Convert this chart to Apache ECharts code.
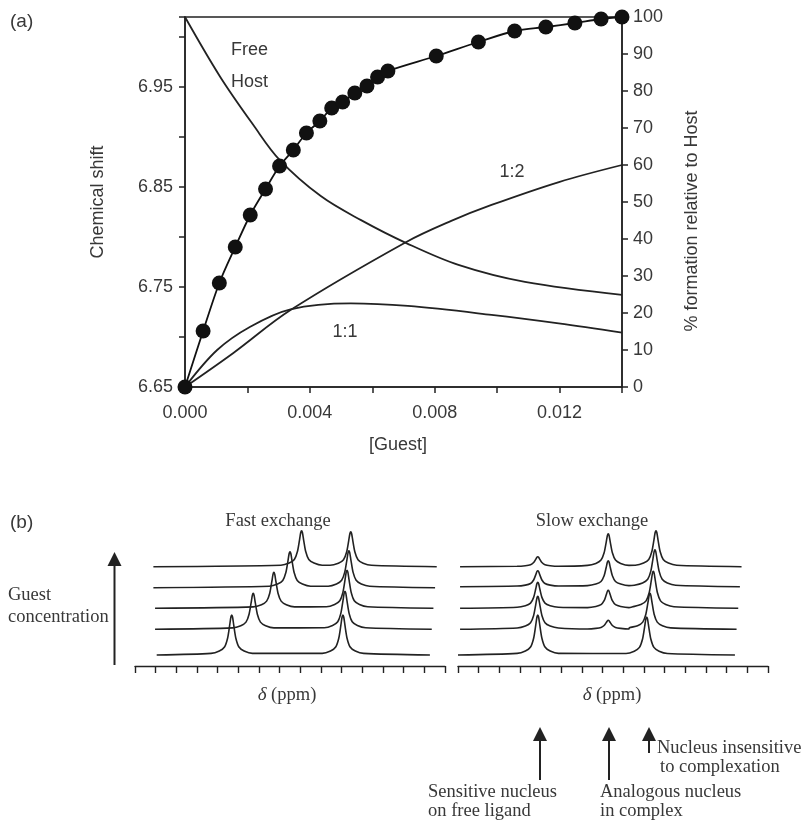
<!DOCTYPE html>
<html lang="en">
<head>
    <meta charset="UTF-8">
    <title>Host-guest titration</title>
    <script src="https://cdn.jsdelivr.net/npm/echarts@6/dist/echarts.min.js"></script>
    <style>
        html, body { margin: 0; padding: 0; background: #fff; }
        #main { width: 805px; height: 820px; }
    </style>
</head>
<body>
<div id="main"></div>
<script type="text/javascript">
// ---- (a) titration data ----
var GUEST = [0, 0.00058, 0.00110, 0.00161, 0.00209, 0.00258, 0.00303, 0.00347, 0.00389, 0.00432,
    0.00470, 0.00505, 0.00544, 0.00583, 0.00617, 0.00650, 0.00805, 0.00940, 0.01056, 0.01156,
    0.01249, 0.01333, 0.01400];
var SHIFT = [6.650, 6.706, 6.754, 6.790, 6.822, 6.848, 6.871, 6.887, 6.904, 6.916,
    6.929, 6.935, 6.944, 6.951, 6.960, 6.966, 6.981, 6.995, 7.006, 7.010,
    7.014, 7.018, 7.020];

var FREE_X = [0, 0.00113, 0.00219, 0.00303, 0.00435, 0.00564, 0.00709, 0.00876, 0.01089, 0.0140];
var FREE_PCT = [100, 83.8, 70.8, 61.4, 51.6, 45.1, 38.9, 33.0, 28.4, 24.9];

var C11_X = [0, 0.00103, 0.00209, 0.00338, 0.00531, 0.00714, 0.00982, 0.01197, 0.0140];
var C11_PCT = [0, 10, 16.3, 21, 22.6, 21.9, 19.5, 17.2, 14.7];

var C12_X = [0, 0.00155, 0.00338, 0.00709, 0.00853, 0.00982, 0.01198, 0.0140];
var C12_PCT = [0, 9.2, 20.8, 39.2, 44.9, 49.2, 55.4, 60];

// ---- (b) spectra, traces listed bottom -> top ----
var LEFT_START = [1.05, 0.97, 0.97, 0.89, 0.89];
var LEFT_END = [14.27, 14.36, 14.44, 14.52, 14.6];
var LEFT_BASE = [11, 36.7, 57.7, 78.3, 99.3];
var LEFT_P1_POS = [4.68, 5.72, 6.72, 7.5, 8.06];
var LEFT_P1_H = [40, 36, 36, 36, 36];
var LEFT_P2_POS = [10.06, 10.16, 10.26, 10.35, 10.44];
var LEFT_P2_H = [40, 38, 38, 37, 35];

var RIGHT_START = [0.0, 0.1, 0.1, 0.1, 0.1];
var RIGHT_END = [13.4, 13.48, 13.56, 13.64, 13.72];
var RIGHT_BASE = [11, 36.7, 57.7, 79.3, 99.3];
var FREE_POS = [3.86, 3.86, 3.86, 3.86, 3.86];
var FREE_H = [40, 33, 26, 16, 10];
var CPLX_POS = [7.27, 7.27, 7.27, 7.27, 7.27];
var CPLX_H = [0, 9, 18, 26, 33];
var INS_POS = [9.13, 9.29, 9.45, 9.53, 9.58];
var INS_H = [38, 36, 37, 37, 36];

// peak outline (offset in ppm units, fraction of height)
var PEAK_DX = [-1.0, -0.6, -0.35, -0.2, -0.1, -0.04, 0, 0.04, 0.1, 0.2, 0.35, 0.6, 1.0];
var PEAK_FRAC = [0.04, 0.1, 0.2, 0.42, 0.74, 0.95, 1, 0.95, 0.74, 0.42, 0.2, 0.1, 0.04];

var INK = '#222';
var TXT = '#383838';
var SANS = '"Liberation Sans", Arial, sans-serif';
var SERIF = '"Liberation Serif", "Times New Roman", serif';

function zip(xs, ys) {
    var out = [];
    for (var i = 0; i < xs.length; i++) out.push([xs[i], ys[i]]);
    return out;
}

function trace(start, end, base, peaks) {
    var pts = [[start, base]];
    for (var p = 0; p < peaks.length; p++) {
        if (peaks[p][1] <= 0) continue;
        for (var k = 0; k < PEAK_DX.length; k++) {
            pts.push([peaks[p][0] + PEAK_DX[k], base + peaks[p][1] * PEAK_FRAC[k]]);
        }
    }
    pts.push([end, base]);
    return pts;
}

var series = [];
series.push({
    type: 'line', xAxisIndex: 0, yAxisIndex: 0,
    data: zip(GUEST, SHIFT), smooth: 0.3, clip: false,
    symbol: 'circle', symbolSize: 15,
    itemStyle: { color: '#111' },
    lineStyle: { color: '#111', width: 1.8 }, z: 5
});
[[FREE_X, FREE_PCT], [C11_X, C11_PCT], [C12_X, C12_PCT]].forEach(function (c) {
    series.push({
        type: 'line', xAxisIndex: 0, yAxisIndex: 1,
        data: zip(c[0], c[1]), smooth: 0.35, showSymbol: false,
        lineStyle: { color: INK, width: 1.8 }
    });
});
for (var i = 0; i < 5; i++) {
    series.push({
        type: 'line', xAxisIndex: 1, yAxisIndex: 2, showSymbol: false, smooth: 0.25,
        lineStyle: { color: INK, width: 1.6 },
        data: trace(LEFT_START[i], LEFT_END[i], LEFT_BASE[i],
            [[LEFT_P1_POS[i], LEFT_P1_H[i]], [LEFT_P2_POS[i], LEFT_P2_H[i]]])
    });
    series.push({
        type: 'line', xAxisIndex: 2, yAxisIndex: 3, showSymbol: false, smooth: 0.25,
        lineStyle: { color: INK, width: 1.6 },
        data: trace(RIGHT_START[i], RIGHT_END[i], RIGHT_BASE[i],
            [[FREE_POS[i], FREE_H[i]], [CPLX_POS[i], CPLX_H[i]], [INS_POS[i], INS_H[i]]])
    });
}

var axLine = { show: true, lineStyle: { color: INK, width: 1.5 } };
var axTick = { show: true, length: 6, lineStyle: { color: INK, width: 1.5 } };
var labStyle = { color: TXT, fontSize: 18, fontFamily: SANS };

function specX(grid) {
    return {
        gridIndex: grid, type: 'value', min: 0, max: 15, interval: 1,
        axisLine: { show: true, lineStyle: { color: INK, width: 1.4 } },
        axisTick: { show: true, length: 7, lineStyle: { color: INK, width: 1.4 } },
        axisLabel: { show: false }, splitLine: { show: false }
    };
}
function specY(grid) {
    return { gridIndex: grid, type: 'value', min: 0, max: 150, show: false };
}

function txt(x, y, s, font, extra) {
    var el = {
        type: 'text', x: x, y: y, silent: true,
        style: { text: s, font: font, fill: TXT, align: 'left', verticalAlign: 'middle' }
    };
    if (extra) for (var k in extra) el.style[k] = extra[k];
    return el;
}
function arrow(x, tip, bottom) {
    return [
        { type: 'line', shape: { x1: x, y1: tip + 10, x2: x, y2: bottom }, style: { stroke: INK, lineWidth: 2 } },
        { type: 'polygon', shape: { points: [[x, tip], [x - 7, tip + 14], [x + 7, tip + 14]] }, style: { fill: INK } }
    ];
}

var serifFont = '18.5px ' + SERIF;
var sansFont = '18px ' + SANS;
var deltaRich = { i: { fontStyle: 'italic', fontFamily: SERIF, fontSize: 19, fill: TXT } };
var graphics = [
    txt(10, 22, '(a)', '19px ' + SANS),
    txt(231, 50, 'Free', sansFont),
    txt(231, 82, 'Host', sansFont),
    txt(345, 332, '1:1', sansFont, { align: 'center' }),
    txt(512, 172, '1:2', sansFont, { align: 'center' }),
    txt(398, 445, '[Guest]', sansFont, { align: 'center' }),
    {
        type: 'text', x: 98, y: 202, rotation: Math.PI / 2, silent: true,
        style: { text: 'Chemical shift', font: sansFont, fill: TXT, align: 'center', verticalAlign: 'middle' }
    },
    {
        type: 'text', x: 692, y: 221, rotation: Math.PI / 2, silent: true,
        style: { text: '% formation relative to Host', font: sansFont, fill: TXT, align: 'center', verticalAlign: 'middle' }
    },
    txt(10, 523, '(b)', '19px ' + SANS),
    txt(278, 521, 'Fast exchange', serifFont, { align: 'center' }),
    txt(592, 521, 'Slow exchange', serifFont, { align: 'center' }),
    txt(8, 595, 'Guest', serifFont),
    txt(8, 617, 'concentration', serifFont),
    txt(287, 695, '{i|δ} (ppm)', serifFont, { align: 'center', rich: deltaRich }),
    txt(612, 695, '{i|δ} (ppm)', serifFont, { align: 'center', rich: deltaRich }),
    txt(428, 792, 'Sensitive nucleus', serifFont),
    txt(428, 811, 'on free ligand', serifFont),
    txt(600, 792, 'Analogous nucleus', serifFont),
    txt(600, 811, 'in complex', serifFont),
    txt(657, 748, 'Nucleus insensitive', serifFont),
    txt(660, 767, 'to complexation', serifFont)
].concat(arrow(114.5, 552, 665), arrow(540, 727, 780), arrow(609, 727, 780), arrow(649, 727, 753));

var myChart = echarts.init(document.getElementById('main'), null, { renderer: 'canvas' });
myChart.setOption({
    backgroundColor: '#fff',
    animation: false,
    grid: [
        { left: 185, top: 17, width: 437, height: 370, show: true, borderColor: INK, borderWidth: 1.5, outerBoundsMode: 'none' },
        { left: 135, top: 516, width: 310, height: 150, outerBoundsMode: 'none' },
        { left: 458, top: 516, width: 310, height: 150, outerBoundsMode: 'none' }
    ],
    xAxis: [
        {
            gridIndex: 0, type: 'value', min: 0, max: 0.014, interval: 0.002,
            axisLine: axLine, axisTick: axTick, splitLine: { show: false },
            axisLabel: Object.assign({}, labStyle, {
                margin: 17, showMaxLabel: true,
                formatter: function (v) { return Math.round(v * 1000) % 4 === 0 ? v.toFixed(3) : ''; }
            })
        },
        specX(1), specX(2)
    ],
    yAxis: [
        {
            gridIndex: 0, type: 'value', position: 'left', min: 6.65, max: 7.02, interval: 0.05,
            axisLine: axLine, axisTick: axTick, splitLine: { show: false },
            axisLabel: Object.assign({}, labStyle, {
                margin: 12,
                formatter: function (v) { return Math.round(v * 100) % 10 === 5 ? v.toFixed(2) : ''; }
            })
        },
        {
            gridIndex: 0, type: 'value', position: 'right', min: 0, max: 100, interval: 10,
            axisLine: axLine, axisTick: axTick, splitLine: { show: false },
            axisLabel: Object.assign({}, labStyle, { margin: 11 })
        },
        specY(1), specY(2)
    ],
    series: series,
    graphic: graphics
});
</script>
</body>
</html>
